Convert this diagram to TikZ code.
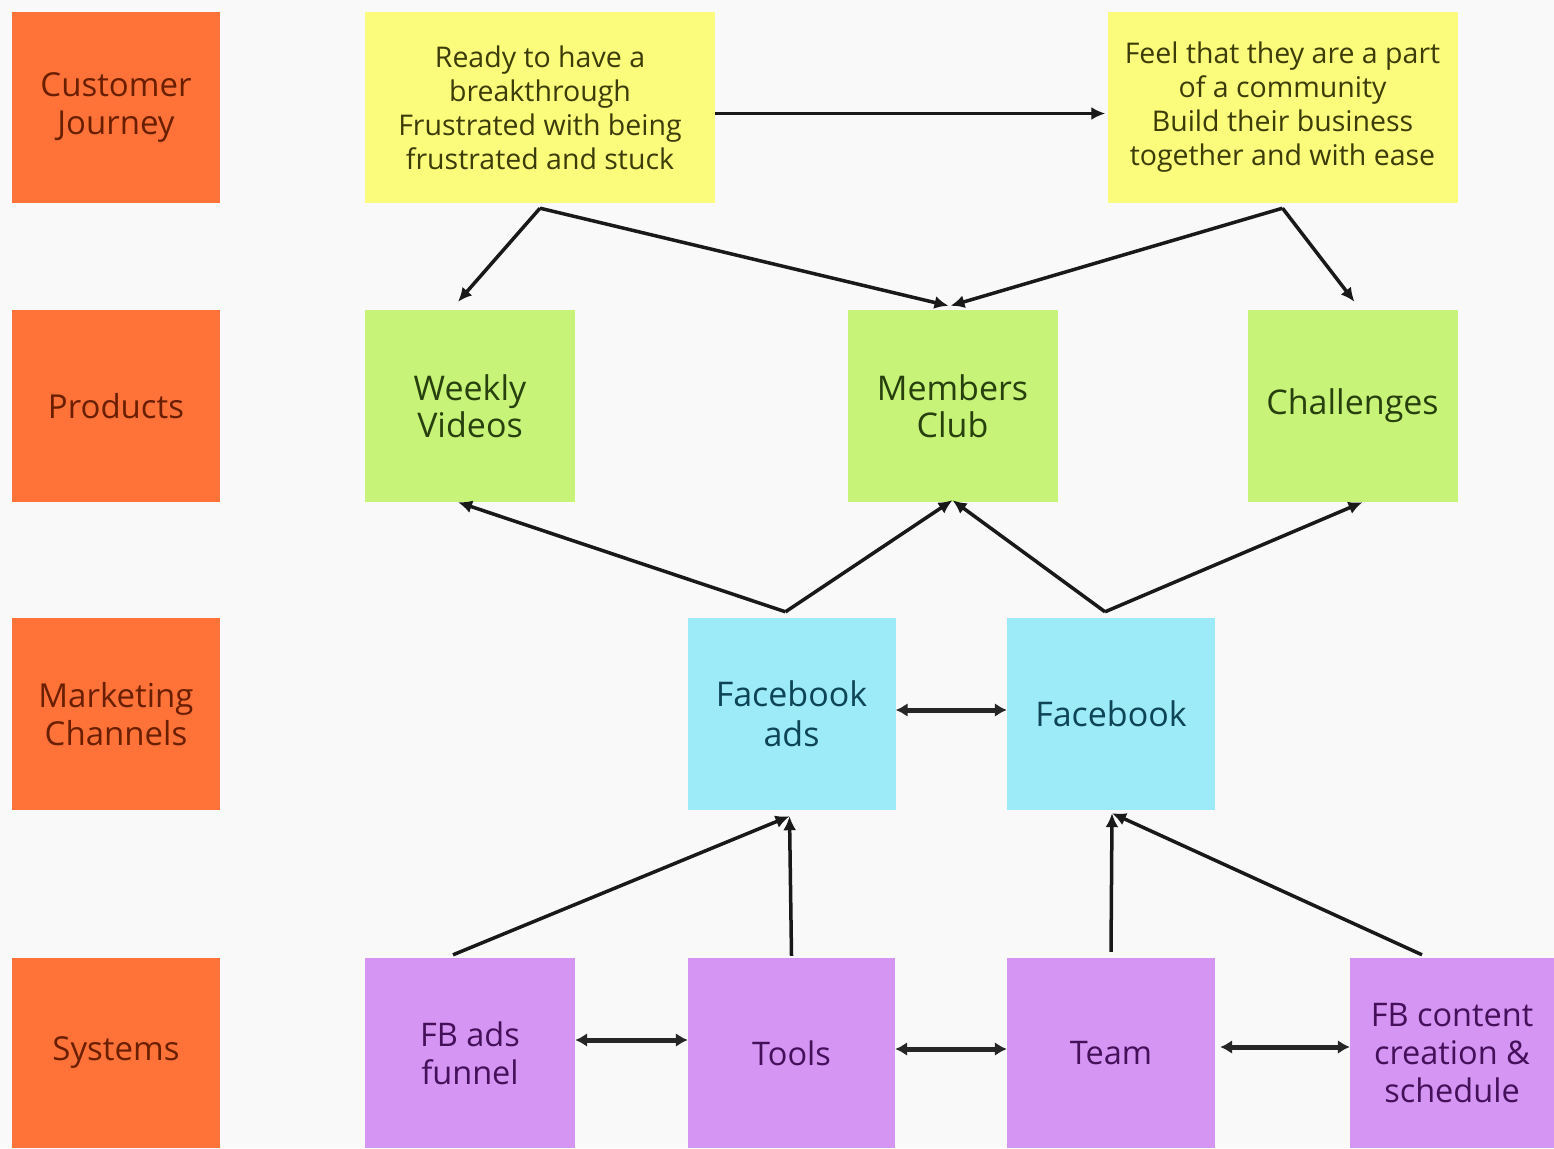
\documentclass[tikz,border=0pt]{standalone}
\usepackage{fontspec}
\setmainfont{Open Sans}
\usetikzlibrary{arrows.meta,calc}
\definecolor{bgc}{HTML}{F9F9F9}
\definecolor{orangef}{HTML}{FF7338}
\definecolor{oranget}{HTML}{6A1E00}
\definecolor{yellowf}{HTML}{FBFB7C}
\definecolor{yellowt}{HTML}{3C3C08}
\definecolor{greenf}{HTML}{C6F378}
\definecolor{greent}{HTML}{27400E}
\definecolor{bluef}{HTML}{9DEBF9}
\definecolor{bluet}{HTML}{0E4556}
\definecolor{purplef}{HTML}{D495F3}
\definecolor{purplet}{HTML}{45105A}
\begin{document}
\begin{tikzpicture}[x=1pt,y=-1pt,
  box/.style={rectangle, inner sep=0pt, align=center},
  lab/.style={box, fill=orangef, text=oranget, minimum width=208pt, font=\fontsize{33}{38}\selectfont},
  yel/.style={box, fill=yellowf, text=yellowt, minimum width=350pt, minimum height=191pt, font=\fontsize{28.5}{34}\selectfont},
  grn/.style={box, fill=greenf, text=greent, minimum width=210pt, minimum height=192pt, font=\fontsize{34}{37}\selectfont},
  blu/.style={box, fill=bluef, text=bluet, minimum width=208pt, minimum height=192pt, font=\fontsize{34}{40}\selectfont},
  pur/.style={box, fill=purplef, text=purplet, minimum height=190pt, font=\fontsize{32.5}{38}\selectfont},
  arr/.style={draw=black!90, line width=3.5pt, -{Latex[length=14pt,width=13pt]}},
  darr/.style={draw=black!85, line width=5pt, {Latex[length=12pt,width=14pt]}-{Latex[length=12pt,width=14pt]}}
]
\fill[bgc] (0,0) rectangle (1554,1148);
\useasboundingbox (0,0) rectangle (1554,1148);

% row labels
\node[lab, minimum height=191pt] (l1) at (116,107.5) {Customer\\Journey};
\node[lab, minimum height=192pt] (l2) at (116,406) {Products};
\node[lab, minimum height=192pt] (l3) at (116,714) {Marketing\\Channels};
\node[lab, minimum height=190pt] (l4) at (116,1053) {Systems};

% customer journey
\node[yel] (y1) at (540,107.5) {Ready to have a\\breakthrough\\Frustrated with being\\frustrated and stuck};
\node[yel] (y2) at (1282.5,107.5) {Feel that they are a part\\of a community\\Build their business\\together and with ease};

% products
\node[grn] (wv) at (470,406) {Weekly\\Videos};
\node[grn] (mc) at (952.5,406) {Members\\Club};
\node[grn] (ch) at (1352.5,406) {Challenges};

% marketing channels
\node[blu] (fa) at (791.5,714) {Facebook\\ads};
\node[blu] (fb) at (1111,714) {Facebook};

% systems
\node[pur, minimum width=210pt] (sf) at (470,1053) {FB ads\\funnel};
\node[pur, minimum width=207pt] (tl) at (791.5,1053) {Tools};
\node[pur, minimum width=208pt] (tm) at (1111,1053) {Team};
\node[pur, minimum width=204pt] (fc) at (1452,1053) {FB content\\creation \&\\schedule};

% connectors
\draw[arr] ($(y1.east)+(0,6)$) -- ($(y2.west)+(-2,6)$);
\draw[arr] ($(y1.south)+(0,5)$) -- ($(wv.north)+(-12,-8)$);
\draw[arr] ($(y1.south)+(0,5)$) -- ($(mc.north)+(-4,-4)$);
\draw[arr] ($(y2.south)+(0,5)$) -- ($(mc.north)+(-2,-4)$);
\draw[arr] ($(y2.south)+(0,5)$) -- ($(ch.north)+(2,-8)$);

\draw[arr] ($(fa.north)+(-6,-6)$) -- ($(wv.south)+(-12,0)$);
\draw[arr] ($(fa.north)+(-6,-6)$) -- ($(mc.south)+(0,-2)$);
\draw[arr] ($(fb.north)+(-6,-6)$) -- ($(mc.south)+(0,-2)$);
\draw[arr] ($(fb.north)+(-6,-6)$) -- ($(ch.south)+(10,0)$);
\draw[darr] ($(fa.east)+(0,-4)$) -- ($(fb.west)+(0,-4)$);

\draw[arr] ($(sf.north)+(-17,-3)$) -- ($(fa.south)+(-2,6)$);
\draw[arr] ($(tl.north)+(0,-2)$) -- ($(fa.south)+(-2,6)$);
\draw[arr] ($(tm.north)+(0,-6)$) -- ($(fb.south)+(1,3)$);
\draw[arr] ($(fc.north)+(-30,-3)$) -- ($(fb.south)+(1,3)$);

\draw[darr] ($(sf.east)+(0,-13)$) -- ($(tl.west)+(0,-13)$);
\draw[darr] ($(tl.east)+(0,-4)$) -- ($(tm.west)+(0,-4)$);
\draw[darr] ($(tm.east)+(5,-6)$) -- ($(fc.west)+(0,-6)$);
\end{tikzpicture}
\end{document}
